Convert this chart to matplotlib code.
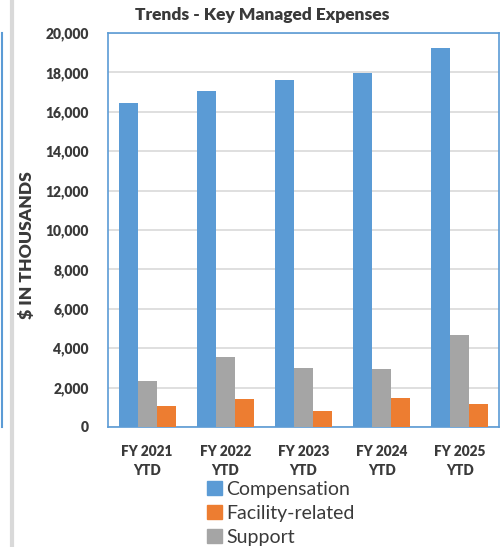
import matplotlib.pyplot as plt
import numpy as np
from matplotlib.lines import Line2D
from matplotlib.patches import Patch

plt.rcParams['font.family'] = ['Lato', 'DejaVu Sans']

years = ['FY 2021\nYTD', 'FY 2022\nYTD', 'FY 2023\nYTD', 'FY 2024\nYTD', 'FY 2025\nYTD']
compensation = [16450, 17070, 17610, 17980, 19220]
support = [2350, 3560, 2980, 2930, 4670]
facility = [1070, 1420, 830, 1460, 1180]
yticks = list(range(0, 20001, 2000))

blue = '#5b9bd5'
orange = '#ed7d31'
gray = '#a5a5a5'
txt = '#3a3a3a'

fig = plt.figure(figsize=(5.01, 5.47), dpi=100)
ax = fig.add_axes([108 / 501, 1 - 427 / 547, 391 / 501, 394 / 547])

x = np.arange(len(years))
w = 0.243
ax.bar(x - w, compensation, w, color=blue, zorder=3)
ax.bar(x, support, w, color=gray, zorder=3)
ax.bar(x + w, facility, w, color=orange, zorder=3)

ax.set_xlim(-0.5, len(years) - 0.5)
ax.set_ylim(0, 20000)
ax.set_yticks(yticks)
ax.set_yticklabels([f'{v:,}' for v in yticks])
ax.set_xticks(x)
ax.set_xticklabels(years, linespacing=1.5)
ax.yaxis.grid(True, color='#d9d9d9', linewidth=1.2, zorder=0)
ax.tick_params(length=0, labelcolor=txt)
ax.tick_params(axis='y', pad=14, labelsize=10)
ax.tick_params(axis='x', pad=13, labelsize=9.8)
for lab in ax.get_xticklabels() + ax.get_yticklabels():
    lab.set_fontweight('heavy')
for s in ax.spines.values():
    s.set_color(blue)
    s.set_linewidth(1.2)

fig.text(262 / 501, 1 - 15 / 547, 'Trends - Key Managed Expenses', ha='center', va='center',
         fontsize=12.5, fontweight='heavy', color=txt)
fig.text(27 / 501, 1 - 245 / 547, '$ IN THOUSANDS', rotation=90, ha='center', va='center',
         fontsize=12.6, fontweight='heavy', color=txt)

# edges of the neighbouring panels
fig.add_artist(Line2D([1.5 / 501, 1.5 / 501], [1 - 33 / 547, 1 - 427 / 547],
                      color=blue, linewidth=1.5, transform=fig.transFigure))
fig.add_artist(Line2D([11.5 / 501, 11.5 / 501], [0, 1],
                      color='#d9d9d9', linewidth=3, transform=fig.transFigure))

handles = [Patch(color=blue), Patch(color=orange), Patch(color=gray)]
fig.legend(handles, ['Compensation', 'Facility-related', 'Support'],
           loc='upper left', bbox_to_anchor=(207 / 501, 1 - 481 / 547),
           frameon=False, fontsize=14, labelcolor=txt, handlelength=0.75, handleheight=0.75,
           handletextpad=0.25, labelspacing=0.36, borderpad=0, borderaxespad=0)

fig.savefig('out.png', dpi=100)
